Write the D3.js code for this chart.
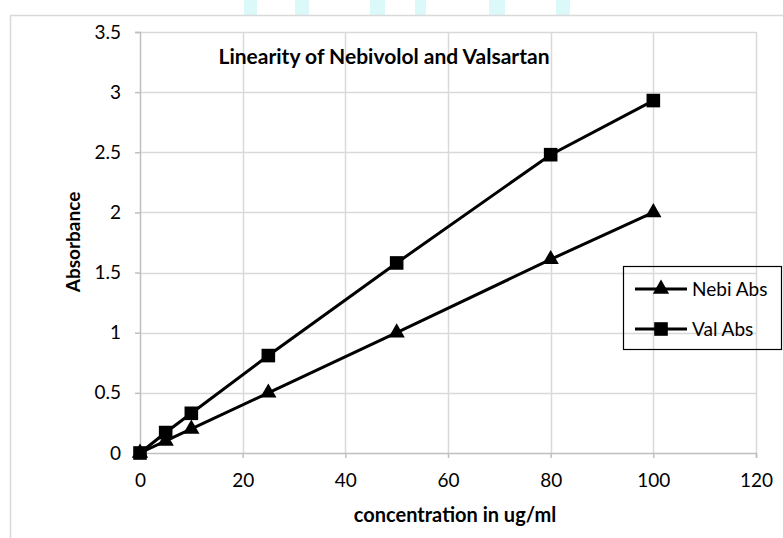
<!DOCTYPE html>
<html>
<head>
<meta charset="utf-8">
<script src="https://cdn.jsdelivr.net/npm/d3@7"></script>
<style>
  body { margin: 0; background: #fff; }
  svg { display: block; font-family: Lato, "Open Sans", sans-serif; }
</style>
</head>
<body>
<svg id="chart" width="783" height="538"></svg>
<script>
(function () {
    'use strict';

    // data
    var conc = [0, 5, 10, 25, 50, 80, 100];
    var nebiAbs = [0, 0.1, 0.2, 0.5, 1.0, 1.61, 2.0];
    var valAbs = [0, 0.17, 0.33, 0.81, 1.58, 2.48, 2.93];
    var xTicks = [0, 20, 40, 60, 80, 100, 120];
    var yTicks = [0, 0.5, 1, 1.5, 2, 2.5, 3, 3.5];
    var seriesNames = ['Nebi Abs', 'Val Abs'];
    // stray cyan blocks along the top edge of the scan
    var stripeX = [244, 295, 370, 415, 489, 556];
    var stripeW = [13, 14, 15, 11, 16, 14];

    var svg = d3.select('#chart');

    var x = d3.scaleLinear().domain([0, 120]).range([140, 756]);
    var y = d3.scaleLinear().domain([0, 3.5]).range([453, 32]);

    // top artefacts + frame
    svg.selectAll('rect.stripe')
        .data(stripeX)
      .enter().append('rect')
        .attr('class', 'stripe')
        .attr('x', d => d)
        .attr('y', 0)
        .attr('width', (d, i) => stripeW[i])
        .attr('height', 15)
        .style('fill', '#dcf9f9');

    svg.append('path')
        .attr('d', 'M10.5,538V15.5H783')
        .style('fill', 'none')
        .style('stroke', '#d9d9d9')
        .style('stroke-width', '1.5px');

    // gridlines
    var grid = svg.append('g');
    grid.selectAll('line.h')
        .data(yTicks.slice(1))
      .enter().append('line')
        .attr('x1', x(0)).attr('x2', x(120))
        .attr('y1', d => Math.round(y(d)) + 0.5)
        .attr('y2', d => Math.round(y(d)) + 0.5)
        .style('stroke', '#d9d9d9')
        .style('stroke-width', '1.5px');
    grid.selectAll('line.v')
        .data(xTicks.slice(1))
      .enter().append('line')
        .attr('y1', y(0)).attr('y2', y(3.5))
        .attr('x1', d => Math.round(x(d)) + 0.5)
        .attr('x2', d => Math.round(x(d)) + 0.5)
        .style('stroke', '#d9d9d9')
        .style('stroke-width', '1.5px');

    // axes
    var xAxis = svg.append('g')
        .attr('transform', 'translate(0,' + y(0) + ')')
        .call(d3.axisBottom(x).tickValues(xTicks).tickSize(5).tickPadding(16));
    var yAxis = svg.append('g')
        .attr('transform', 'translate(' + x(0) + ',0)')
        .call(d3.axisLeft(y).tickValues(yTicks).tickSize(5).tickPadding(14)
              .tickFormat(d3.format('')));

    [xAxis, yAxis].forEach(function (ax) {
        ax.select('.domain').style('stroke', '#bfbfbf').style('stroke-width', '1.5px');
        ax.selectAll('.tick line').style('stroke', '#bfbfbf').style('stroke-width', '1.5px');
        ax.selectAll('.tick text')
            .style('font-family', 'Lato, "Open Sans", sans-serif')
            .style('font-size', '19px')
            .style('fill', '#000');
    });

    // series
    var line = d3.line()
        .x(d => x(d[0]))
        .y(d => y(d[1]));

    var nebi = conc.map((c, i) => [c, nebiAbs[i]]);
    var val = conc.map((c, i) => [c, valAbs[i]]);

    var tri = d3.symbol().type(d3.symbolTriangle).size(115);
    var sq = d3.symbol().type(d3.symbolSquare).size(185);

    [nebi, val].forEach(function (pts) {
        svg.append('path')
            .datum(pts)
            .attr('d', line)
            .style('fill', 'none')
            .style('stroke', '#000')
            .style('stroke-width', '3px');
    });

    svg.selectAll('path.nebi')
        .data(nebi)
      .enter().append('path')
        .attr('class', 'nebi')
        .attr('transform', d => 'translate(' + x(d[0]) + ',' + y(d[1]) + ')')
        .attr('d', tri)
        .style('fill', '#000');

    svg.selectAll('path.val')
        .data(val)
      .enter().append('path')
        .attr('class', 'val')
        .attr('transform', d => 'translate(' + x(d[0]) + ',' + y(d[1]) + ')')
        .attr('d', sq)
        .style('fill', '#000');

    // titles
    svg.append('text')
        .attr('x', 384)
        .attr('y', 64)
        .attr('text-anchor', 'middle')
        .style('font-weight', 'bold')
        .style('font-size', '21px')
        .text('Linearity of Nebivolol and Valsartan');

    svg.append('text')
        .attr('x', 455)
        .attr('y', 522)
        .attr('text-anchor', 'middle')
        .style('font-weight', 'bold')
        .style('font-size', '20px')
        .text('concentration in ug/ml');

    svg.append('text')
        .attr('transform', 'translate(80,242) rotate(-90)')
        .attr('text-anchor', 'middle')
        .style('font-weight', 'bold')
        .style('font-size', '19px')
        .text('Absorbance');

    // legend
    var legend = svg.append('g');
    legend.append('rect')
        .attr('x', 623.5).attr('y', 266.5)
        .attr('width', 158).attr('height', 83)
        .style('fill', 'none')
        .style('stroke', '#000')
        .style('stroke-width', '1.2px');

    var legY = [289, 329];
    var legSym = [tri, sq];
    seriesNames.forEach(function (name, i) {
        legend.append('line')
            .attr('x1', 635).attr('x2', 687)
            .attr('y1', legY[i]).attr('y2', legY[i])
            .style('stroke', '#000')
            .style('stroke-width', '3px');
        legend.append('path')
            .attr('transform', 'translate(661,' + legY[i] + ')')
            .attr('d', legSym[i])
            .style('fill', '#000');
        legend.append('text')
            .attr('x', 692)
            .attr('y', legY[i] + 7)
            .style('font-size', '19px')
            .text(name);
    });
}());
</script>
</body>
</html>
